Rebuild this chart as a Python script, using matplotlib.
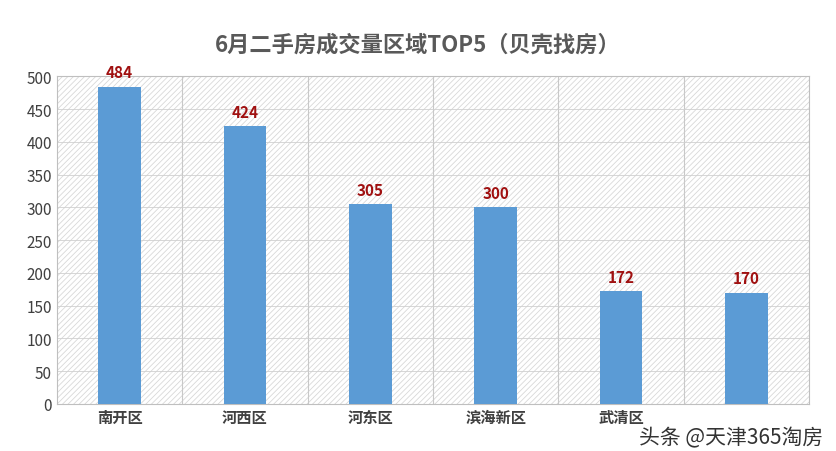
import matplotlib.pyplot as plt

plt.rcParams['font.family'] = ['Noto Sans CJK SC', 'DejaVu Sans']
plt.rcParams['hatch.color'] = '#d0d0d0'
plt.rcParams['hatch.linewidth'] = 0.6

districts = ['南开区', '河西区', '河东区', '滨海新区', '武清区', '']
volumes = [484, 424, 305, 300, 172, 170]

fig = plt.figure(figsize=(8.36, 4.52), dpi=100)
ax = fig.add_axes([0.068, 0.104, 0.90, 0.725])
ax.set_facecolor('white')
ax.patch.set_hatch('//////')
ax.patch.set_edgecolor('#d8d8d8')

x = range(len(districts))
ax.bar(x, volumes, width=0.34, color='#5b9bd5', zorder=3)
for i, v in enumerate(volumes):
    ax.text(i, v + 10, str(v), ha='center', va='bottom', color='#a01010',
            fontsize=11, fontweight='bold', zorder=4)

ax.set_xlim(-0.5, len(districts) - 0.5)
ax.set_ylim(0, 500)
ax.set_yticks(range(0, 501, 50))
ax.set_xticks(list(x))
ax.set_xticklabels(districts, fontsize=11, fontweight='bold', color='#404040')
ax.tick_params(axis='y', labelsize=11, colors='#404040', length=0)
ax.tick_params(axis='x', length=0)
for b in [i + 0.5 for i in range(len(districts) - 1)]:
    ax.axvline(b, color='#c8c8c8', lw=0.8, zorder=1)
ax.grid(axis='y', color='#d0d0d0', lw=0.6, zorder=1)
for s in ax.spines.values():
    s.set_color('#bfbfbf')

fig.suptitle('6月二手房成交量区域TOP5（贝壳找房）', x=0.5, y=0.925,
             fontsize=16, fontweight='bold', color='#595959')
fig.text(0.985, 0.03, '头条 @天津365淘房', ha='right', va='center',
         fontsize=15, color='#333333')

fig.savefig('out.png', dpi=100, facecolor='white')
